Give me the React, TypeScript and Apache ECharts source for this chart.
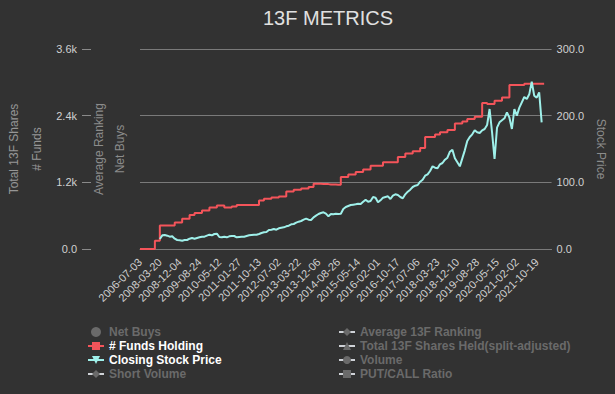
import React, { useEffect, useRef } from "react";
import * as echarts from "echarts";

const dates: string[] = [
  "2006-07-03", "2006-10-02", "2007-01-03", "2007-04-02", "2007-07-02", "2007-10-01", "2007-12-31", "2008-02-15",
  "2008-03-20", "2008-04-22", "2008-05-22", "2008-06-23", "2008-07-24", "2008-08-25", "2008-09-25", "2008-10-28",
  "2008-12-04", "2009-01-06", "2009-02-06", "2009-03-10", "2009-04-09", "2009-05-12", "2009-06-12", "2009-07-15",
  "2009-08-24", "2009-09-24", "2009-10-26", "2009-11-25", "2009-12-29", "2010-02-01", "2010-03-04", "2010-04-07",
  "2010-05-12", "2010-06-14", "2010-07-15", "2010-08-16", "2010-09-16", "2010-10-18", "2010-11-17", "2010-12-20",
  "2011-01-27", "2011-02-28", "2011-03-30", "2011-04-29", "2011-06-01", "2011-07-01", "2011-08-03", "2011-09-06",
  "2011-10-13", "2011-11-14", "2011-12-14", "2012-01-17", "2012-02-16", "2012-03-19", "2012-04-19", "2012-05-21",
  "2012-07-02", "2012-08-02", "2012-09-04", "2012-10-04", "2012-11-07", "2012-12-10", "2013-01-11", "2013-02-13",
  "2013-03-22", "2013-04-23", "2013-05-23", "2013-06-24", "2013-07-25", "2013-08-26", "2013-09-26", "2013-10-28",
  "2013-12-06", "2014-01-08", "2014-02-10", "2014-03-13", "2014-04-14", "2014-05-14", "2014-06-16", "2014-07-17",
  "2014-08-26", "2014-09-26", "2014-10-28", "2014-11-26", "2014-12-30", "2015-02-02", "2015-03-04", "2015-04-06",
  "2015-05-14", "2015-06-15", "2015-07-16", "2015-08-17", "2015-09-17", "2015-10-19", "2015-11-18", "2015-12-21",
  "2016-02-01", "2016-03-03", "2016-04-04", "2016-05-04", "2016-06-06", "2016-07-07", "2016-08-08", "2016-09-08",
  "2016-10-17", "2016-11-16", "2016-12-19", "2017-01-23", "2017-02-23", "2017-03-27", "2017-04-26", "2017-05-30",
  "2017-07-06", "2017-08-07", "2017-09-07", "2017-10-09", "2017-11-08", "2017-12-11", "2018-01-12", "2018-02-15",
  "2018-03-23", "2018-04-24", "2018-05-24", "2018-06-25", "2018-07-26", "2018-08-27", "2018-09-27", "2018-10-29",
  "2018-12-10", "2019-01-14", "2019-02-13", "2019-03-18", "2019-04-17", "2019-05-17", "2019-06-19", "2019-07-22",
  "2019-08-28", "2019-09-27", "2019-10-29", "2019-11-27", "2019-12-31", "2020-02-03", "2020-03-05", "2020-03-23",
  "2020-05-15", "2020-06-16", "2020-07-17", "2020-08-18", "2020-09-18", "2020-10-20", "2020-11-19", "2020-12-22",
  "2021-02-02", "2021-03-05", "2021-04-06", "2021-05-06", "2021-06-07", "2021-07-08", "2021-08-09", "2021-09-09",
  "2021-10-19", "2021-11-10", "2021-12-01", "2022-01-05", "2022-02-07", "2022-03-10", "2022-04-11",
];

// # Funds Holding (left axis)
const fundsHolding: (number | null)[] = [
  0, 0, 0, 0, 0, 0, 150, 150,
  425, 425, 425, 425, 425, 425, 479, 479,
  479, 545, 545, 545, 612, 612, 648, 648,
  648, 695, 695, 695, 749, 749, 749, 785,
  785, 785, 749, 749, 749, 767, 767, 790,
  790, 790, 790, 790, 790, 790, 790, 790,
  875, 875, 905, 905, 905, 929, 929, 929,
  947, 947, 947, 1037, 1037, 1037, 1067, 1067,
  1067, 1091, 1091, 1091, 1115, 1115, 1175, 1175,
  1175, 1168, 1168, 1168, 1160, 1160, 1160, 1155,
  1155, 1296, 1296, 1296, 1340, 1340, 1340, 1385,
  1385, 1385, 1430, 1430, 1430, 1500, 1500, 1500,
  1500, 1500, 1560, 1560, 1560, 1560, 1560, 1560,
  1657, 1657, 1657, 1717, 1717, 1717, 1758, 1758,
  1758, 1818, 1818, 2014, 2014, 2014, 2014, 2061,
  2061, 2103, 2103, 2103, 2140, 2140, 2140, 2260,
  2260, 2260, 2293, 2293, 2340, 2340, 2340, 2382,
  2382, 2382, 2626, 2626, 2608, 2608, 2608, 2667,
  2667, 2667, 2727, 2727, 2727, 2952, 2952, 2952,
  2952, 2952, 2952, 2976, 2976, 2976, 2976, 2976,
  2976, 2976, 2976, null, null, null, null,
];

// Closing Stock Price (right axis)
const closingPrice: (number | null)[] = [
  null, null, null, null, null, null, null, null,
  15, 20.5, 21, 20, 18.5, 19, 15.5, 13.5,
  13, 12.5, 13.5, 13.5, 15.5, 16.5, 15.5, 16.5,
  17.5, 18.5, 18.5, 20, 21.5, 20.5, 22.5, 23,
  18, 17.5, 18.5, 17.5, 19, 19.5, 19.5, 17.5,
  18, 18.5, 18.5, 19.5, 20.5, 21, 21.5, 21.5,
  22.5, 24, 25, 25.5, 28.5, 29, 30, 29,
  31, 32, 32.5, 34, 35, 37, 37.5, 39.5,
  41, 42, 44, 45.5, 44, 43.5, 47.5, 50,
  52.5, 54, 55, 53, 49, 52.5, 52, 53,
  52.5, 53, 60, 63, 64.5, 66, 66.5, 67,
  68, 67.5, 71, 74, 71, 72, 78, 77,
  70, 73, 77, 78, 79, 75, 80, 82,
  81, 78, 76, 82, 86, 89, 93, 95,
  96, 101, 104, 110, 112, 117, 124, 122,
  121, 127, 129, 134, 137, 146, 149, 136,
  130, 124, 136, 148, 162, 168, 172, 178,
  175, 174, 178, 180, 186, 210, 175, 135,
  182, 190, 193, 196, 205, 197, 180, 210,
  200, 212, 220, 228, 225, 232, 251, 230,
  227, 235, 190, null, null, null, null,
];

const fundsTicks: number[] = [0, 1200, 2400, 3600];
const priceTicks: number[] = [0, 100, 200, 300];

const legendLeft: string[] = ["Net Buys", "# Funds Holding", "Closing Stock Price", "Short Volume"];
const legendRight: string[] = ["Average 13F Ranking", "Total 13F Shares Held(split-adjusted)", "Volume", "PUT/CALL Ratio"];

const FONT = "'Liberation Sans', Arial, Helvetica, sans-serif";

export default function App() {
  const ref = useRef<HTMLDivElement>(null);

  useEffect(() => {
    document.body.style.margin = "0";
    if (!ref.current) return;
    const chart = echarts.init(ref.current, null, { renderer: "svg" });

    const selected: Record<string, boolean> = {
      "Net Buys": false,
      "# Funds Holding": true,
      "Closing Stock Price": true,
      "Short Volume": false,
      "Average 13F Ranking": false,
      "Total 13F Shares Held(split-adjusted)": false,
      Volume: false,
      "PUT/CALL Ratio": false,
    };

    const legendBase = {
      orient: "vertical",
      top: 326,
      itemGap: 2,
      itemWidth: 16,
      itemHeight: 10,
      padding: 0,
      inactiveColor: "#6a6a6a",
      selected,
      textStyle: { color: "#ffffff", fontSize: 12, fontWeight: "bold", fontFamily: FONT },
    };

    const hiddenAxis = (name: string, offset: number, nameGap: number) => ({
      type: "value",
      position: "left",
      offset,
      name,
      nameLocation: "middle",
      nameGap,
      nameTextStyle: { color: "#8c8c8c", fontSize: 12, fontFamily: FONT },
      axisLine: { show: false },
      axisTick: { show: false },
      axisLabel: { show: false },
      splitLine: { show: false },
    });

    chart.setOption({
      animation: false,
      backgroundColor: "#323232",
      title: {
        text: "13F METRICS",
        left: 263,
        top: 8,
        padding: 0,
        textStyle: { color: "#e0e0e0", fontSize: 20, fontWeight: "normal", fontFamily: FONT },
      },
      legend: [
        { ...legendBase, left: 87, data: legendLeft.map((n) => (n === "Net Buys" ? { name: n, icon: "circle" } : n)) },
        { ...legendBase, left: 338, data: legendRight },
      ],
      grid: { left: 130, right: 63, top: 49, bottom: 145, containLabel: false },
      xAxis: {
        type: "category",
        data: dates,
        boundaryGap: false,
        axisLine: { show: true, lineStyle: { color: "#7a7a7a" } },
        axisTick: { show: false },
        axisLabel: {
          interval: 7,
          rotate: 45,
          margin: 11,
          color: "#cfcfcf",
          fontSize: 11,
          fontFamily: FONT,
        },
        splitLine: { show: false },
      },
      yAxis: [
        {
          type: "value",
          position: "left",
          offset: 49,
          min: fundsTicks[0],
          max: fundsTicks[fundsTicks.length - 1],
          interval: fundsTicks[1] - fundsTicks[0],
          name: "# Funds",
          nameLocation: "middle",
          nameGap: 48,
          nameTextStyle: { color: "#969696", fontSize: 12, fontFamily: FONT },
          axisLine: { show: false },
          axisTick: { show: true, length: 9, lineStyle: { color: "#8a8a8a" } },
          axisLabel: {
            margin: 14,
            color: "#d0d0d0",
            fontSize: 11,
            fontFamily: FONT,
            formatter: (v: number) => (v === 0 ? "0.0" : (v / 1000).toFixed(1) + "k"),
          },
          splitLine: { show: true, lineStyle: { color: "#7a7a7a", width: 1 } },
        },
        hiddenAxis("Net Buys", 0, 14),
        hiddenAxis("Average Ranking", 0, 35),
        { ...hiddenAxis("Total 13F Shares", 49, 71), nameTextStyle: { color: "#969696", fontSize: 12, fontFamily: FONT } },
        {
          type: "value",
          position: "right",
          min: priceTicks[0],
          max: priceTicks[priceTicks.length - 1],
          interval: priceTicks[1] - priceTicks[0],
          name: "Stock Price",
          nameLocation: "middle",
          nameGap: 39,
          nameRotate: -90,
          nameTextStyle: { color: "#8c8c8c", fontSize: 12, fontFamily: FONT },
          axisLine: { show: false },
          axisTick: { show: false },
          axisLabel: {
            margin: 5,
            color: "#d0d0d0",
            fontSize: 11,
            fontFamily: FONT,
            formatter: (v: number) => v.toFixed(1),
          },
          splitLine: { show: false },
        },
      ],
      series: [
        { name: "Net Buys", type: "bar", yAxisIndex: 1, data: [], itemStyle: { color: "#888888" } },
        {
          name: "# Funds Holding",
          type: "line",
          yAxisIndex: 0,
          data: fundsHolding,
          step: "end",
          symbol: "rect",
          showSymbol: false,
          color: "#f4545a",
          lineStyle: { color: "#f4545a", width: 2 },
          itemStyle: { color: "#f4545a" },
        },
        {
          name: "Closing Stock Price",
          type: "line",
          yAxisIndex: 4,
          data: closingPrice,
          symbol: "triangle",
          symbolRotate: 180,
          showSymbol: false,
          color: "#9ff0ea",
          lineStyle: { color: "#9ff0ea", width: 2 },
          itemStyle: { color: "#9ff0ea" },
        },
        { name: "Short Volume", type: "line", yAxisIndex: 1, data: [], symbol: "diamond", color: "#888888" },
        { name: "Average 13F Ranking", type: "line", yAxisIndex: 2, data: [], symbol: "diamond", color: "#888888" },
        { name: "Total 13F Shares Held(split-adjusted)", type: "line", yAxisIndex: 3, data: [], symbol: "triangle", color: "#888888" },
        { name: "Volume", type: "line", yAxisIndex: 1, data: [], symbol: "circle", color: "#888888" },
        { name: "PUT/CALL Ratio", type: "line", yAxisIndex: 1, data: [], symbol: "rect", color: "#888888" },
      ],
    });

    return () => chart.dispose();
  }, []);

  return <div ref={ref} style={{ width: 615, height: 394 }} />;
}
